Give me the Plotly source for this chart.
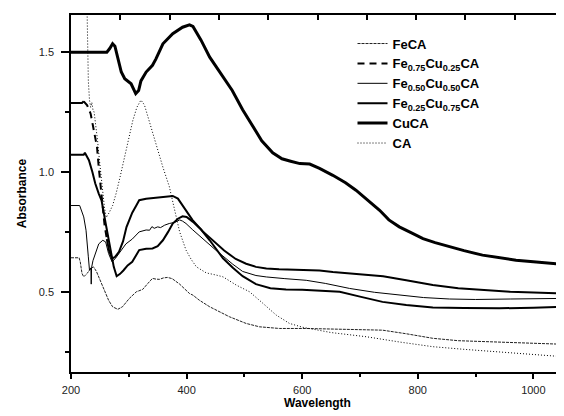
import plotly.graph_objects as go

# ---------------- data ----------------
cuca_wl = [200, 220, 245, 262, 267, 272, 276, 281, 287, 293, 304, 312, 317, 321, 330, 341,
           347, 359, 376, 393, 405, 411, 425, 440, 460, 479, 497, 514, 530, 549, 565, 580,
           596, 613, 630, 653, 675, 693, 715, 734, 750, 768, 790, 809, 830, 855, 880, 912,
           940, 970, 1000, 1030, 1053]
cuca_a = [1.50, 1.50, 1.50, 1.50, 1.515, 1.535, 1.525, 1.48, 1.417, 1.389, 1.368, 1.327, 1.34,
          1.38, 1.417, 1.445, 1.472, 1.535, 1.577, 1.604, 1.614, 1.607, 1.55, 1.479, 1.41, 1.34,
          1.26, 1.19, 1.13, 1.08, 1.055, 1.045, 1.035, 1.033, 1.015, 0.986, 0.955, 0.924, 0.88,
          0.84, 0.80, 0.771, 0.745, 0.722, 0.705, 0.687, 0.672, 0.653, 0.643, 0.632, 0.625,
          0.618, 0.614]

fe75_wl = [200, 219, 222, 228, 234, 240, 245, 248, 251, 254, 258, 262, 266, 271, 276, 283,
           290, 296, 306, 313, 318, 330, 347, 362, 376, 385, 392, 399, 410, 428, 445, 465,
           485, 503, 520, 538, 560, 580, 607, 630, 653, 690, 740, 780, 826, 870, 912, 960,
           1000, 1053]
fe75_a = [1.288, 1.288, 1.295, 1.278, 1.243, 1.17, 1.104, 1.02, 0.9375, 0.86, 0.78, 0.72,
          0.67, 0.639, 0.645, 0.667, 0.71, 0.77, 0.83, 0.86, 0.882, 0.888, 0.893, 0.895, 0.90,
          0.889, 0.865, 0.84, 0.80, 0.752, 0.715, 0.672, 0.637, 0.617, 0.604, 0.597, 0.594,
          0.593, 0.593, 0.589, 0.583, 0.575, 0.565, 0.548, 0.528, 0.515, 0.507, 0.50, 0.497,
          0.493]

fe50_wl = [200, 215, 222, 226, 230, 232, 234.5, 235, 235.5, 238, 242, 248, 255, 260, 265, 271,
           277, 283, 295, 306, 318, 330, 336, 340, 344, 350, 355, 362, 370, 380, 388, 393,
           399, 410, 428, 450, 480, 497, 520, 538, 570, 607, 640, 682, 725, 768, 810, 855,
           900, 960, 1000, 1053]
fe50_a = [0.86, 0.86, 0.8125, 0.757, 0.646, 0.59, 0.60, 0.532, 0.60, 0.63, 0.66, 0.70, 0.715,
          0.708, 0.66, 0.625, 0.64, 0.66, 0.70, 0.72, 0.75, 0.758, 0.757, 0.772, 0.765, 0.771,
          0.768, 0.778, 0.785, 0.79, 0.80, 0.795, 0.785, 0.76, 0.72, 0.675, 0.615, 0.585,
          0.568, 0.562, 0.555, 0.548, 0.535, 0.514, 0.498, 0.486, 0.476, 0.47, 0.468, 0.47,
          0.471, 0.4725]

fe25_wl = [200, 222, 224, 231, 237, 242, 248, 253, 260, 268, 274, 279, 285, 291, 298, 306,
           318, 330, 341, 350, 359, 368, 376, 385, 393, 400, 411, 425, 440, 463, 480, 497,
           520, 545, 572, 600, 630, 665, 700, 739, 780, 826, 880, 941, 1000, 1053]
fe25_a = [1.072, 1.072, 1.08, 1.049, 1.0, 0.952, 0.91, 0.88, 0.785, 0.674, 0.604, 0.565,
          0.575, 0.59, 0.61, 0.625, 0.674, 0.68, 0.681, 0.69, 0.715, 0.75, 0.785, 0.805, 0.815,
          0.812, 0.792, 0.76, 0.715, 0.64, 0.60, 0.565, 0.532, 0.515, 0.51, 0.509, 0.506, 0.50,
          0.48, 0.458, 0.445, 0.435, 0.432, 0.431, 0.434, 0.4375]

feca_wl = [200, 214, 216, 219, 222, 228, 234, 239, 244, 248, 257, 265, 272, 281, 289, 295,
           301, 313, 318, 324, 333, 341, 347, 353, 360, 367, 375, 388, 405, 411, 422, 440,
           474, 503, 526, 561, 607, 650, 700, 739, 780, 826, 870, 912, 960, 1000, 1053]
feca_a = [0.642, 0.642, 0.625, 0.577, 0.5625, 0.577, 0.597, 0.604, 0.585, 0.5625, 0.507,
          0.465, 0.4375, 0.427, 0.4375, 0.455, 0.4725, 0.50, 0.505, 0.51, 0.535, 0.556, 0.553,
          0.552, 0.558, 0.56, 0.555, 0.532, 0.493, 0.486, 0.465, 0.4375, 0.396, 0.368, 0.354,
          0.347, 0.347, 0.345, 0.343, 0.34, 0.325, 0.306, 0.296, 0.292, 0.287, 0.284, 0.281]

ca_wl = [215, 225, 228, 230, 232, 234, 236, 238, 240, 243, 246, 250, 255, 258, 261, 266, 272,
         278, 285, 295, 307, 314, 321, 327, 333, 347, 359, 370, 382, 388, 399, 408, 417, 434,
         451, 463, 486, 509, 532, 555, 578, 601, 650, 711, 770, 826, 880, 941, 1000, 1053]
ca_a = [3.0, 2.2, 1.65, 1.38, 1.30, 1.27, 1.29, 1.26, 1.25, 1.20, 1.13, 1.03, 0.91, 0.85, 0.81,
        0.83, 0.86, 0.91, 0.98, 1.09, 1.215, 1.27, 1.30, 1.28, 1.23, 1.118, 1.02, 0.94, 0.82,
        0.75, 0.674, 0.635, 0.604, 0.579, 0.57, 0.5625, 0.528, 0.50, 0.452, 0.403, 0.368,
        0.352, 0.33, 0.3125, 0.29, 0.271, 0.26, 0.25, 0.238, 0.229]

x_ticks = [200, 400, 600, 800, 1000]
y_ticks = [0.5, 1.0, 1.5]

# ---------------- figure ----------------
FONT = "Liberation Sans, Arial, sans-serif"
fig = go.Figure()

fig.add_trace(go.Scatter(x=feca_wl, y=feca_a, mode="lines", name="FeCA",
                         line=dict(color="#222222", width=1, dash="3px,1px")))

# Fe0.75Cu0.25CA : dashed where it falls steeply, solid elsewhere (as rendered in the reference)
DASH_FROM, DASH_TO = 222, 262
i0 = fe75_wl.index(DASH_FROM)
i1 = fe75_wl.index(DASH_TO)
fe75_name = "Fe<sub>0.75</sub>Cu<sub>0.25</sub>CA"
fig.add_trace(go.Scatter(x=fe75_wl[i0:i1 + 1], y=fe75_a[i0:i1 + 1], mode="lines",
                         name=fe75_name, legendgroup="fe75",
                         line=dict(color="black", width=2, dash="7px,5px")))
fig.add_trace(go.Scatter(x=fe75_wl[:i0 + 1], y=fe75_a[:i0 + 1], mode="lines",
                         name=fe75_name, legendgroup="fe75", showlegend=False,
                         line=dict(color="black", width=2)))
fig.add_trace(go.Scatter(x=fe75_wl[i1:], y=fe75_a[i1:], mode="lines",
                         name=fe75_name, legendgroup="fe75", showlegend=False,
                         line=dict(color="black", width=2)))

fig.add_trace(go.Scatter(x=fe50_wl, y=fe50_a, mode="lines",
                         name="Fe<sub>0.50</sub>Cu<sub>0.50</sub>CA",
                         line=dict(color="black", width=1)))
fig.add_trace(go.Scatter(x=fe25_wl, y=fe25_a, mode="lines",
                         name="Fe<sub>0.25</sub>Cu<sub>0.75</sub>CA",
                         line=dict(color="black", width=2)))
fig.add_trace(go.Scatter(x=cuca_wl, y=cuca_a, mode="lines", name="CuCA",
                         line=dict(color="black", width=3)))
fig.add_trace(go.Scatter(x=ca_wl, y=ca_a, mode="lines", name="CA",
                         line=dict(color="black", width=1, dash="1px,2px")))

# helper trace for the top / right tick frames
fig.add_trace(go.Scatter(x=[None], y=[None], xaxis="x2", yaxis="y2",
                         showlegend=False, hoverinfo="skip"))

# the page body adds an 8 px offset, so the figure is sized to the visible window
fig.update_layout(
    width=556, height=408,
    margin=dict(l=63, r=0, t=7, b=44, autoexpand=False),
    paper_bgcolor="white", plot_bgcolor="white",
    font=dict(family=FONT, color="black"),
    showlegend=True,
    legend=dict(x=0.571, y=0.962, xanchor="left", yanchor="top",
                bgcolor="rgba(0,0,0,0)", borderwidth=0, tracegroupgap=0,
                font=dict(family=FONT, size=13, weight="bold", color="black"),
                itemwidth=30),
    xaxis=dict(range=[200, 1053], tickvals=x_ticks, ticks="outside", ticklen=5,
               tickwidth=1.5, tickcolor="black", ticklabelstandoff=2,
               minor=dict(dtick=100, tick0=200, ticks="outside", ticklen=3,
                          tickwidth=1.5, tickcolor="black"),
               showline=True, linewidth=1.5, linecolor="black", mirror=True,
               showgrid=False, zeroline=False, automargin=False,
               tickfont=dict(family=FONT, size=11, color="#222222"),
               title=dict(text="Wavelength", standoff=4,
                          font=dict(family=FONT, size=12, weight="bold"))),
    yaxis=dict(range=[0.1654, 1.655], tickvals=y_ticks, ticktext=["0.5", "1.0", "1.5"],
               ticks="outside", ticklen=8, tickwidth=1.5, tickcolor="black",
               ticklabelstandoff=5,
               minor=dict(dtick=0.25, tick0=0, ticks="outside", ticklen=4,
                          tickwidth=1.5, tickcolor="black"),
               showline=True, linewidth=1.5, linecolor="black", mirror=False,
               showgrid=False, zeroline=False, automargin=False,
               tickfont=dict(family=FONT, size=11, color="#222222"),
               title=dict(text="Absorbance", standoff=10,
                          font=dict(family=FONT, size=12, weight="bold"))),
    xaxis2=dict(overlaying="x", side="top", anchor="y2", range=[0, 10],
                tickvals=[1, 2, 3, 4, 5, 6, 7, 8, 9], ticks="inside", ticklen=5,
                tickwidth=1.5, tickcolor="black", showticklabels=False,
                showline=True, linewidth=1.5, linecolor="black",
                showgrid=False, zeroline=False, automargin=False),
    yaxis2=dict(overlaying="y", side="right", anchor="x2", range=[0, 10],
                tickvals=[2, 4, 6, 8], ticks="inside", ticklen=7, tickwidth=1.5,
                tickcolor="black", showticklabels=False,
                minor=dict(tickvals=[1, 3, 5, 7, 9], ticks="inside", ticklen=3,
                           tickwidth=1.5, tickcolor="black"),
                showline=False, showgrid=False, zeroline=False, automargin=False),
)

fig.write_html("out.html")
